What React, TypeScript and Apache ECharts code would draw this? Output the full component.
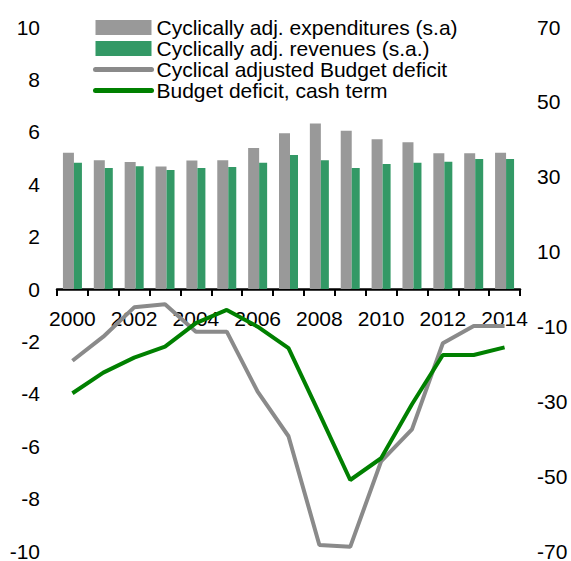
import React, { useEffect, useRef } from "react";
import * as echarts from "echarts";

const years = ["2000", "2001", "2002", "2003", "2004", "2005", "2006", "2007", "2008", "2009", "2010", "2011", "2012", "2013", "2014"];
const expenditures = [36.4, 34.4, 33.9, 32.7, 34.3, 34.4, 37.7, 41.6, 44.2, 42.3, 40.0, 39.2, 36.3, 36.3, 36.4];
const revenues = [33.7, 32.3, 32.8, 31.8, 32.3, 32.6, 33.7, 35.8, 34.4, 32.3, 33.4, 33.7, 34.0, 34.7, 34.7];
const cycAdjDeficit = [-2.74, -1.82, -0.7, -0.58, -1.63, -1.63, -3.92, -5.62, -9.77, -9.84, -6.58, -5.36, -2.07, -1.41, -1.41];
const cashDeficit = [-3.98, -3.19, -2.62, -2.2, -1.3, -0.8, -1.44, -2.26, -4.76, -7.29, -6.46, -4.4, -2.52, -2.52, -2.23];

const FONT = "'Liberation Sans', Arial, Helvetica, sans-serif";

const GRID_TOP = 27;
const GRID_BOTTOM = 10;
const CHART_H = 561;

export default function App() {
  const ref = useRef<HTMLDivElement>(null);
  useEffect(() => {
    if (!ref.current) return;
    const chart = echarts.init(ref.current, undefined, { renderer: "svg" });
    // label axis sits on the zero line of the left axis (middle of the -10..10 range)
    const plotH = CHART_H - GRID_TOP - GRID_BOTTOM;
    const labelOffset = -plotH / 2;
    chart.setOption({
      animation: false,
      textStyle: { fontFamily: FONT, color: "#000" },
      grid: { left: 57, right: 51, top: GRID_TOP, bottom: GRID_BOTTOM, containLabel: false, outerBoundsMode: "none" },
      legend: {
        orient: "vertical",
        left: 93,
        top: 17,
        padding: 0,
        itemWidth: 56,
        itemHeight: 15,
        itemGap: 0,
        textStyle: { fontFamily: FONT, fontSize: 21, color: "#000", lineHeight: 20 },
        data: [
          { name: "Cyclically adj. expenditures (s.a)", icon: "rect" },
          { name: "Cyclically adj. revenues (s.a.)", icon: "rect" },
          { name: "Cyclical adjusted Budget deficit", itemStyle: { opacity: 0 }, lineStyle: { width: 5, cap: "round" } },
          { name: "Budget deficit, cash term", itemStyle: { opacity: 0 }, lineStyle: { width: 5, cap: "round" } },
        ],
      },
      xAxis: [
        {
          type: "category",
          data: years,
          boundaryGap: true,
          axisLine: { onZero: true, onZeroAxisIndex: 0, lineStyle: { color: "#000", width: 2.5 } },
          axisTick: { show: true, interval: 0, length: 7, lineStyle: { color: "#000", width: 2 } },
          axisLabel: { show: false },
          splitLine: { show: false },
        },
        {
          type: "category",
          data: years,
          position: "bottom",
          boundaryGap: true,
          offset: labelOffset,
          axisLine: { show: false, onZero: false },
          axisTick: { show: false },
          axisLabel: { interval: 1, margin: 19, fontSize: 21, color: "#000", fontFamily: FONT },
          splitLine: { show: false },
        },
      ],
      yAxis: [
        {
          type: "value",
          min: -10,
          max: 10,
          interval: 2,
          axisLine: { show: false },
          axisTick: { show: false },
          splitLine: { show: false },
          axisLabel: { margin: 17, fontSize: 21, color: "#000", fontFamily: FONT },
        },
        {
          type: "value",
          position: "right",
          min: -70,
          max: 70,
          interval: 10,
          axisLine: { show: false },
          axisTick: { show: false },
          splitLine: { show: false },
          axisLabel: {
            margin: 17,
            fontSize: 21,
            color: "#000",
            fontFamily: FONT,
            formatter: (v: number) => (Math.abs(Math.round(v / 10)) % 2 === 1 ? String(v) : ""),
          },
        },
      ],
      series: [
        {
          name: "Cyclically adj. expenditures (s.a)",
          type: "bar",
          xAxisIndex: 0,
          yAxisIndex: 1,
          data: expenditures,
          barWidth: 11,
          barGap: "0%",
          itemStyle: { color: "#999999" },
        },
        {
          name: "Cyclically adj. revenues (s.a.)",
          type: "bar",
          xAxisIndex: 0,
          yAxisIndex: 1,
          data: revenues,
          barWidth: 8,
          barGap: "0%",
          itemStyle: { color: "#339966" },
        },
        {
          name: "Cyclical adjusted Budget deficit",
          type: "line",
          xAxisIndex: 0,
          yAxisIndex: 0,
          data: cycAdjDeficit,
          symbol: "none",
          lineStyle: { color: "#8a8a8a", width: 4 },
          itemStyle: { color: "#8a8a8a" },
        },
        {
          name: "Budget deficit, cash term",
          type: "line",
          xAxisIndex: 0,
          yAxisIndex: 0,
          data: cashDeficit,
          symbol: "none",
          lineStyle: { color: "#008000", width: 4 },
          itemStyle: { color: "#008000" },
        },
      ],
    });
    return () => chart.dispose();
  }, []);
  return <div ref={ref} style={{ width: 571, height: 561, position: "absolute", left: 0, top: 0 }} />;
}
